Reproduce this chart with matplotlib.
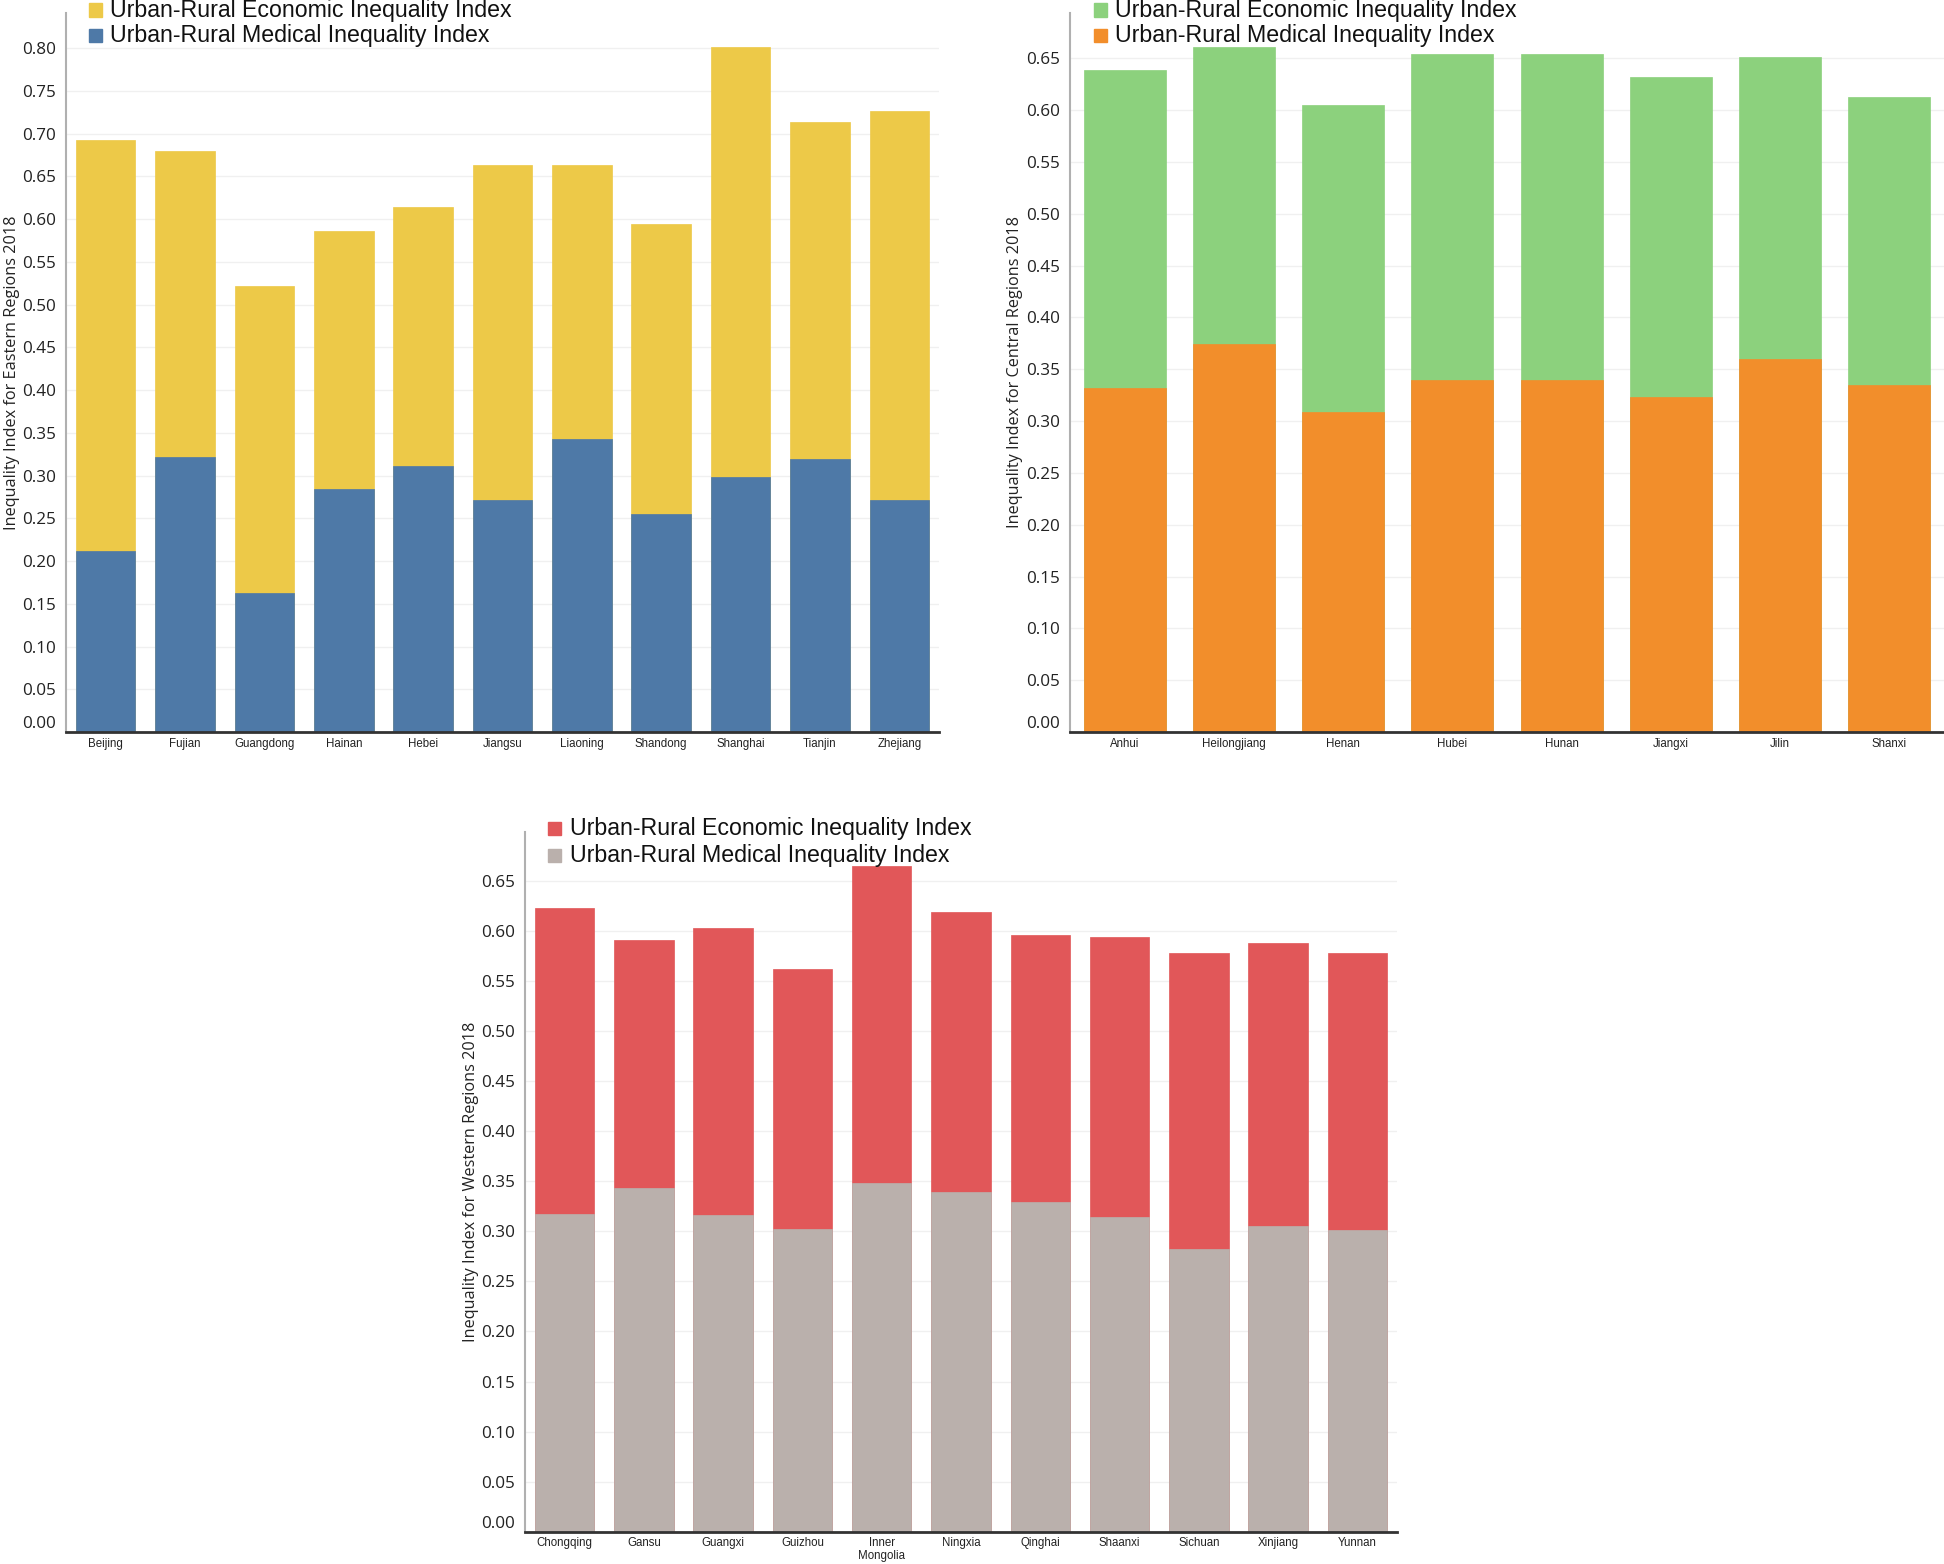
import matplotlib
matplotlib.use("Agg")
import matplotlib.pyplot as plt
from matplotlib.patches import Rectangle
from matplotlib.transforms import ScaledTranslation
import numpy as np

# ---------------- data ----------------
east_regions = ["Beijing", "Fujian", "Guangdong", "Hainan", "Hebei", "Jiangsu",
                "Liaoning", "Shandong", "Shanghai", "Tianjin", "Zhejiang"]
east_medical = [0.212, 0.322, 0.163, 0.284, 0.311, 0.271, 0.343, 0.255, 0.298, 0.319, 0.271]
east_total = [0.692, 0.680, 0.522, 0.586, 0.614, 0.663, 0.663, 0.594, 0.801, 0.714, 0.726]

central_regions = ["Anhui", "Heilongjiang", "Henan", "Hubei", "Hunan", "Jiangxi", "Jilin", "Shanxi"]
central_medical = [0.332, 0.374, 0.309, 0.340, 0.340, 0.323, 0.360, 0.335]
central_total = [0.639, 0.661, 0.605, 0.654, 0.654, 0.632, 0.651, 0.613]

west_regions = ["Chongqing", "Gansu", "Guangxi", "Guizhou", "Inner\nMongolia", "Ningxia",
                "Qinghai", "Shaanxi", "Sichuan", "Xinjiang", "Yunnan"]
west_medical = [0.317, 0.343, 0.316, 0.302, 0.348, 0.339, 0.329, 0.314, 0.282, 0.305, 0.301]
west_total = [0.623, 0.591, 0.603, 0.562, 0.665, 0.619, 0.596, 0.594, 0.578, 0.588, 0.578]

legend_labels = ["Urban-Rural Economic Inequality Index", "Urban-Rural Medical Inequality Index"]

W, H = 1944, 1564
fig = plt.figure(figsize=(W / 100, H / 100), dpi=100)

TICK_FONT = ["Open Sans", "DejaVu Sans"]
LAB_FONT = ["Liberation Sans", "DejaVu Sans"]


def px_axes(l, r, b, t):
    return fig.add_axes([l / W, 1 - b / H, (r - l) / W, (b - t) / H])


def draw_panel(ax, regions, medical, total, c_econ, c_med, ymax, yticks, ylabel, ylab_x):
    x = np.arange(len(regions))
    ax.bar(x, total, width=0.75, color=c_econ, edgecolor=c_econ, linewidth=0.5, zorder=2)
    ax.bar(x, medical, width=0.75, color=c_med, edgecolor=c_med, linewidth=0.5, zorder=3)
    ax.set_xlim(-0.5, len(regions) - 0.5)
    ax.set_ylim(0, ymax)
    ax.set_yticks(yticks)
    ax.set_yticklabels([f"{v:.2f}" for v in yticks], fontsize=12.3, family=TICK_FONT, color="#222222")
    ax.set_xticks(x)
    ax.set_xticklabels(regions, fontsize=8.3, family=LAB_FONT, color="#222222", linespacing=1.1)
    ax.tick_params(axis="both", length=0)
    ax.tick_params(axis="y", pad=7)
    ax.tick_params(axis="x", pad=4)
    for s in ["top", "right"]:
        ax.spines[s].set_visible(False)
    ax.spines["left"].set_color("#b0b0b0")
    ax.spines["left"].set_linewidth(1.5)
    ax.spines["bottom"].set_color("#333333")
    ax.spines["bottom"].set_linewidth(2)
    ax.spines["bottom"].set_zorder(5)
    ax.grid(axis="y", color="#f0f0f0", linewidth=1, zorder=0)
    ax.set_axisbelow(True)
    ax.set_ylabel(ylabel, fontsize=11.7, family=TICK_FONT, color="#222222")
    ax.yaxis.set_label_coords(ylab_x, 0.5)
    # shift the 0.00 label up a bit
    lbl = ax.get_yticklabels()[0]
    lbl.set_transform(lbl.get_transform() + ScaledTranslation(0, 10 / 100, fig.dpi_scale_trans))


def draw_legend(x_sq, y1, y2, text_x, c_econ, c_med):
    for y, c, t in [(y1, c_econ, legend_labels[0]), (y2, c_med, legend_labels[1])]:
        fig.patches.append(Rectangle((x_sq / W, 1 - (y + 6.5) / H), 13 / W, 13 / H,
                                     transform=fig.transFigure, color=c, zorder=10))
        fig.text(text_x / W, 1 - y / H, t, fontsize=16.7, family=LAB_FONT,
                 va="center", ha="left", color="#111111")


# Eastern
ax1 = px_axes(66, 939, 732, 13)
draw_panel(ax1, east_regions, east_medical, east_total, "#EDC948", "#4E79A7",
           0.841, np.round(np.arange(0, 0.801, 0.05), 2),
           "Inequality Index for Eastern Regions 2018", -0.0525)
draw_legend(89, 10, 35.5, 110, "#EDC948", "#4E79A7")

# Central
ax2 = px_axes(1070, 1944, 732, 13)
draw_panel(ax2, central_regions, central_medical, central_total, "#8CD17D", "#F28E2B",
           0.6937, np.round(np.arange(0, 0.651, 0.05), 2),
           "Inequality Index for Central Regions 2018", -0.0537)
draw_legend(1094, 10, 35.5, 1114.5, "#8CD17D", "#F28E2B")

# Western
ax3 = px_axes(525, 1397, 1531.7, 832)
draw_panel(ax3, west_regions, west_medical, west_total, "#E15759", "#BAB0AC",
           0.699, np.round(np.arange(0, 0.651, 0.05), 2),
           "Inequality Index for Western Regions 2018", -0.053)
draw_legend(548, 828.5, 855.5, 569.5, "#E15759", "#BAB0AC")

fig.savefig("out.png", dpi=100, facecolor="white")
